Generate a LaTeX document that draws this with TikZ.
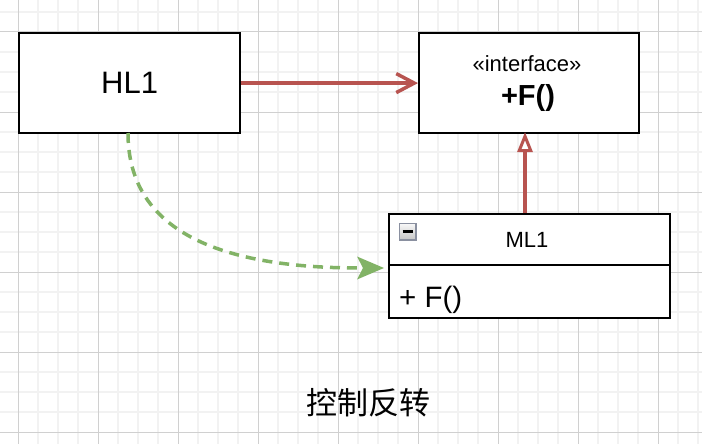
\documentclass[tikz,border=0pt]{standalone}
\usepackage{fontspec}
\setmainfont{Liberation Sans}
\newfontfamily\cjkfont{Noto Sans CJK SC}
\usetikzlibrary{arrows.meta}
\definecolor{edgered}{HTML}{B85450}
\definecolor{edgegreen}{HTML}{82B366}
\definecolor{gridminor}{HTML}{F2F2F2}
\definecolor{gridmajor}{HTML}{D0D0D0}
\definecolor{iconborder}{HTML}{8A90A0}
\tikzset{
  umlbox/.style={draw=black, line width=2.2pt, fill=white, inner sep=0pt},
  redarrow/.style={draw=edgered, line width=3.5pt},
  greenarrow/.style={draw=edgegreen, line width=3.5pt, dash pattern=on 10pt off 7pt}
}
\begin{document}
\begin{tikzpicture}[x=1pt,y=-1pt]
\useasboundingbox (0,0) rectangle (702,444);
\fill[white] (0,0) rectangle (702,444);
% grid
\foreach \gx in {-2,38,58,78,118,138,158,198,218,238,278,298,318,358,378,398,438,458,478,518,538,558,598,618,638,678,698}
  \draw[gridminor, line width=1.5pt] (\gx,0) -- (\gx,444);
\foreach \gy in {12,52,72,92,132,152,172,212,232,252,292,312,332,372,392,412}
  \draw[gridminor, line width=1.5pt] (0,\gy) -- (702,\gy);
\foreach \gx in {18,98,178,258,338,418,498,578,658}
  \draw[gridmajor, line width=1pt] (\gx,0) -- (\gx,444);
\foreach \gy in {32,112,192,272,352,432}
  \draw[gridmajor, line width=1pt] (0,\gy) -- (702,\gy);

% HL1
\node[umlbox, minimum width=221pt, minimum height=100pt, anchor=north west,
      font=\fontsize{31}{31}\selectfont] (hl1) at (18,32) {HL1};
% interface
\node[umlbox, minimum width=220pt, minimum height=100pt, anchor=north west] (iface) at (418,32) {};
\node[font=\fontsize{22}{22}\selectfont, inner sep=0pt, anchor=base] (stereo) at (527,71.5) {«interface»};
\node[font=\bfseries\fontsize{29}{29}\selectfont, inner sep=0pt, anchor=base] (ifn) at (528,106) {+F()};
% ML1
\node[umlbox, minimum width=281pt, minimum height=104pt, anchor=north west] (ml1) at (388,213) {};
\coordinate (divl) at (388,265);
\coordinate (divr) at (669,265);
\draw[black, line width=2.2pt] (divl) -- (divr);
\node[font=\fontsize{22}{22}\selectfont, inner sep=0pt, anchor=base] (mlname) at (527,247) {ML1};
\node[font=\fontsize{29.5}{29.5}\selectfont, inner sep=0pt, anchor=base west] (mlop) at (399,307) {+ F()};
% collapse icon
\node[draw=iconborder, line width=1.5pt, top color=white!95!gray, bottom color=gray!45, minimum size=16.5pt, inner sep=0pt, anchor=north west] (icon) at (398.5,222.5) {};
\draw[black, line width=2.2pt] ([xshift=-5pt]icon.center) -- ([xshift=5pt]icon.center);

% connectors
\draw[redarrow, -{Straight Barb[length=18pt, width=19pt, line width=3.5pt]}] (hl1.east) -- (iface.west);
\coordinate (mltop) at (525,213);
\coordinate (ifbot) at (525,132);
\draw[redarrow, -{Triangle[open, fill=white, length=20pt, width=15pt, line width=3pt]}] (mltop) -- (ifbot);
\coordinate (hlbot) at (128,133);
\coordinate (mlin) at (384,268);
\draw[greenarrow] (hlbot) .. controls (128,220) and (200,268) .. ([xshift=-24pt]mlin);
\fill[edgegreen] (mlin) -- ++(-27,-11.5) -- ++(6,11.5) -- ++(-6,11.5) -- cycle;

% caption
\node[font=\cjkfont\fontsize{31}{31}\selectfont, inner sep=0pt] (cap) at (368,403) {控制反转};
\end{tikzpicture}
\end{document}
